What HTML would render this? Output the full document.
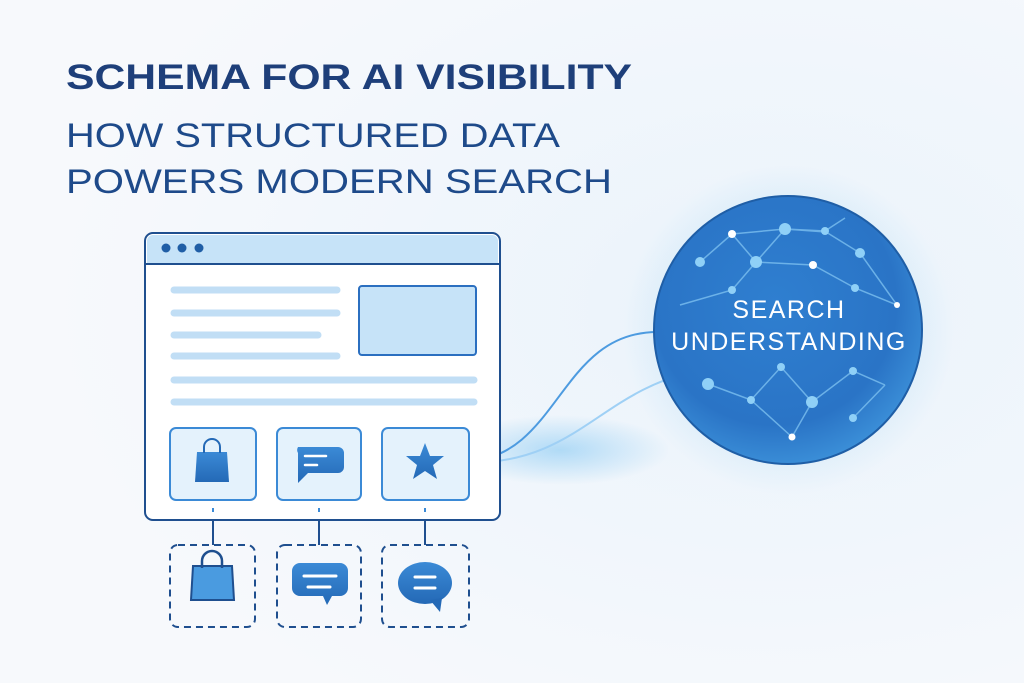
<!DOCTYPE html>
<html><head><meta charset="utf-8"><style>
html,body{margin:0;padding:0;width:1024px;height:683px;overflow:hidden;background:#f5f8fc}
</style></head><body>
<svg width="1024" height="683" viewBox="0 0 1024 683" xmlns="http://www.w3.org/2000/svg" font-family="Liberation Sans, sans-serif">
<defs>
<radialGradient id="bg" cx="0.75" cy="0.45" r="0.7"><stop offset="0" stop-color="#eaf3fb"/><stop offset="1" stop-color="#f7f9fc"/></radialGradient>
<radialGradient id="sph" cx="0.45" cy="0.4" r="0.65"><stop offset="0" stop-color="#2f7fd0"/><stop offset="0.7" stop-color="#2a74c6"/><stop offset="1" stop-color="#3f95dc"/></radialGradient>
<radialGradient id="glow" cx="0.5" cy="0.5" r="0.5"><stop offset="0" stop-color="#7cc4f2" stop-opacity="0.55"/><stop offset="1" stop-color="#7cc4f2" stop-opacity="0"/></radialGradient>
<linearGradient id="icon" x1="0" y1="0" x2="0" y2="1"><stop offset="0" stop-color="#3b8ad6"/><stop offset="1" stop-color="#2469b6"/></linearGradient>
</defs>
<rect width="1024" height="683" fill="url(#bg)"/>
<ellipse cx="560" cy="450" rx="110" ry="35" fill="url(#glow)"/>
<circle cx="788" cy="330" r="165" fill="url(#glow)"/>
<text x="66" y="89" font-size="35" font-weight="bold" fill="#1e3f7a" textLength="566" lengthAdjust="spacingAndGlyphs">SCHEMA FOR AI VISIBILITY</text>
<text x="66" y="147" font-size="34" fill="#1e4a8a" textLength="494" lengthAdjust="spacingAndGlyphs">HOW STRUCTURED DATA</text>
<text x="66" y="193" font-size="34" fill="#1e4a8a" textLength="546" lengthAdjust="spacingAndGlyphs">POWERS MODERN SEARCH</text>
<path d="M470 461 C560 455,560 330,660 332" fill="none" stroke="#4d9be0" stroke-width="2"/>
<path d="M470 463 C580 462,600 390,700 370" fill="none" stroke="#9fd0f5" stroke-width="2"/>
<rect x="145" y="233" width="355" height="287" rx="8" fill="#fff" stroke="#1f4f8f" stroke-width="2"/>
<path d="M147 263 V241 a6 6 0 0 1 6-6 H492 a6 6 0 0 1 6 6 V263 Z" fill="#c6e3f8"/>
<line x1="146" y1="264" x2="499" y2="264" stroke="#1f4f8f" stroke-width="2"/>
<circle cx="166" cy="248" r="4.5" fill="#1f5ea6"/><circle cx="182" cy="248" r="4.5" fill="#1f5ea6"/><circle cx="199" cy="248" r="4.5" fill="#1f5ea6"/>
<g stroke="#c1def5" stroke-width="7" stroke-linecap="round">
<line x1="174" y1="290" x2="337" y2="290"/><line x1="174" y1="313" x2="337" y2="313"/><line x1="174" y1="335" x2="318" y2="335"/><line x1="174" y1="356" x2="337" y2="356"/><line x1="174" y1="380" x2="474" y2="380"/><line x1="174" y1="402" x2="474" y2="402"/>
</g>
<rect x="359" y="286" width="117" height="69" rx="3" fill="#c6e3f8" stroke="#2b6fc0" stroke-width="2"/>
<g fill="#e4f2fc" stroke="#3b8ad6" stroke-width="2">
<rect x="170" y="428" width="86" height="72" rx="6"/><rect x="277" y="428" width="84" height="72" rx="6"/><rect x="382" y="428" width="87" height="72" rx="6"/>
</g>
<path d="M197 452 h30 l2 30 h-34 z" fill="url(#icon)"/><path d="M204 453 v-6 a8 8 0 0 1 16 0 v6" fill="none" stroke="#2469b6" stroke-width="2"/>
<path d="M298 447 h40 a6 6 0 0 1 6 6 v14 a6 6 0 0 1 -6 6 h-30 l-10 10 v-30 a6 6 0 0 1 0 -6z" fill="url(#icon)"/>
<line x1="305" y1="456" x2="326" y2="456" stroke="#fff" stroke-width="2.5" stroke-linecap="round"/><line x1="305" y1="465" x2="317" y2="465" stroke="#fff" stroke-width="2.5" stroke-linecap="round"/>
<polygon points="425,443 430,456 444,456 433,465 437,479 425,471 413,479 417,465 406,456 420,456" fill="url(#icon)"/>
<g stroke="#1f4f8f" stroke-width="2"><line x1="213" y1="520" x2="213" y2="545"/><line x1="319" y1="520" x2="319" y2="545"/><line x1="425" y1="520" x2="425" y2="545"/></g>
<g stroke="#3b8ad6" stroke-width="2"><line x1="213" y1="508" x2="213" y2="512"/><line x1="319" y1="508" x2="319" y2="512"/><line x1="425" y1="508" x2="425" y2="512"/></g>
<g fill="none" stroke="#1f4f8f" stroke-width="2" stroke-dasharray="7 5">
<rect x="170" y="545" width="85" height="82" rx="8"/><rect x="277" y="545" width="84" height="82" rx="8"/><rect x="382" y="545" width="87" height="82" rx="8"/>
</g>
<path d="M193 566 h39 l2 34 h-43 z" fill="#4a9be0" stroke="#1f4f8f" stroke-width="2"/><path d="M202 568 v-7 a10 10 0 0 1 20 0 v7" fill="none" stroke="#1f4f8f" stroke-width="2.5"/>
<path d="M300 563 h40 a8 8 0 0 1 8 8 v17 a8 8 0 0 1 -8 8 h-8 l-5 9 l-4 -9 h-23 a8 8 0 0 1 -8 -8 v-17 a8 8 0 0 1 8-8z" fill="url(#icon)"/>
<line x1="304" y1="576" x2="336" y2="576" stroke="#fff" stroke-width="3" stroke-linecap="round"/><line x1="308" y1="587" x2="330" y2="587" stroke="#fff" stroke-width="3" stroke-linecap="round"/>
<ellipse cx="425" cy="583" rx="27" ry="21" fill="url(#icon)"/><path d="M430 600 l10 12 l2 -14z" fill="#2469b6"/>
<line x1="415" y1="577" x2="435" y2="577" stroke="#fff" stroke-width="3" stroke-linecap="round"/><line x1="415" y1="588" x2="435" y2="588" stroke="#fff" stroke-width="3" stroke-linecap="round"/>
<circle cx="788" cy="330" r="134" fill="url(#sph)" stroke="#1f5ea6" stroke-width="2"/>
<g stroke="#7cc0f0" stroke-width="1.5" fill="none" opacity="0.8">
<polyline points="680,305 732,290 756,262 785,229 826,232 860,253 897,305"/>
<polyline points="700,262 732,234 756,262 813,265 855,288 897,305"/>
<polyline points="732,234 785,229 825,231 845,218"/>
<polyline points="708,384 751,400 781,367 812,402 853,371 885,385"/>
<polyline points="751,400 792,437 812,402"/>
<polyline points="853,418 885,385"/>
</g>
<g fill="#8fd0f7">
<circle cx="732" cy="234" r="4" fill="#fff"/><circle cx="785" cy="229" r="6"/><circle cx="825" cy="231" r="4"/><circle cx="700" cy="262" r="5"/><circle cx="756" cy="262" r="6"/><circle cx="813" cy="265" r="4" fill="#fff"/><circle cx="860" cy="253" r="5"/><circle cx="732" cy="290" r="4"/><circle cx="855" cy="288" r="4"/><circle cx="897" cy="305" r="3" fill="#fff"/>
<circle cx="708" cy="384" r="6"/><circle cx="751" cy="400" r="4"/><circle cx="781" cy="367" r="4"/><circle cx="812" cy="402" r="6"/><circle cx="853" cy="371" r="4"/><circle cx="853" cy="418" r="4"/><circle cx="792" cy="437" r="3.5" fill="#fff"/>
</g>
<text x="789" y="318" font-size="25" fill="#fff" text-anchor="middle" letter-spacing="1.5">SEARCH</text>
<text x="789" y="350" font-size="25" fill="#fff" text-anchor="middle" letter-spacing="1.5">UNDERSTANDING</text>
</svg>
</body></html>
